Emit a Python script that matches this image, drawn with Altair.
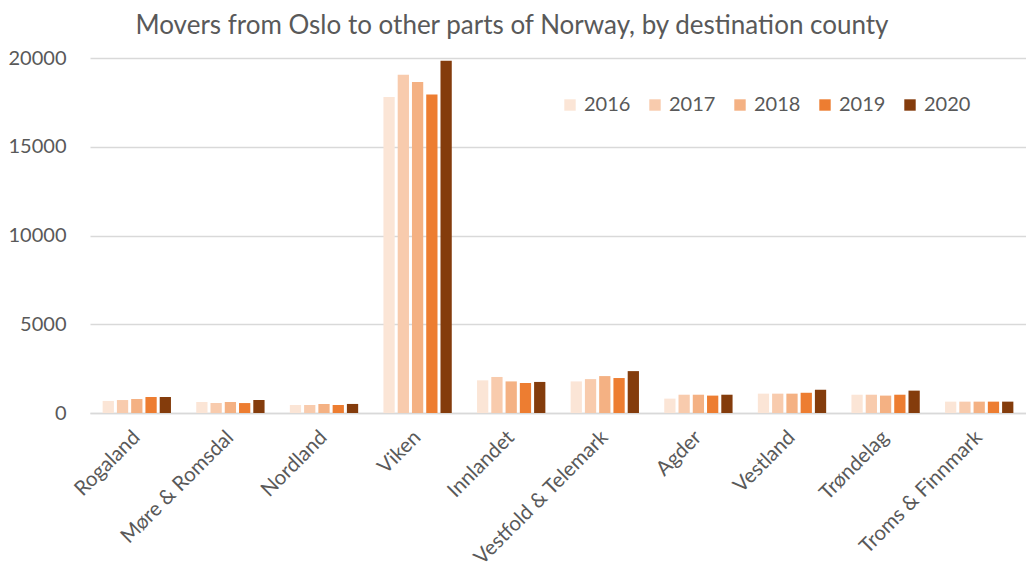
import altair as alt
import pandas as pd

counties = ["Rogaland", "Møre & Romsdal", "Nordland", "Viken", "Innlandet",
            "Vestfold & Telemark", "Agder", "Vestland", "Trøndelag", "Troms & Finnmark"]
years = ["2016", "2017", "2018", "2019", "2020"]
v2016 = [680, 620, 450, 17800, 1840, 1780, 810, 1090, 1030, 640]
v2017 = [730, 560, 450, 19050, 2030, 1910, 1030, 1090, 1030, 640]
v2018 = [790, 620, 510, 18650, 1780, 2080, 1030, 1090, 980, 640]
v2019 = [900, 560, 450, 17950, 1690, 1970, 980, 1140, 1030, 640]
v2020 = [900, 730, 510, 19850, 1750, 2360, 1030, 1310, 1260, 640]
colors = ["#FBE5D6", "#F8CBAD", "#F4B183", "#ED7D31", "#843C0C"]

rows = []
for y, vals in zip(years, [v2016, v2017, v2018, v2019, v2020]):
    for c, v in zip(counties, vals):
        rows.append({"county": c, "year": y, "movers": v})
df = pd.DataFrame(rows)

FONT = "Lato"
GREY = "#595959"

chart = alt.Chart(df).mark_bar().encode(
    x=alt.X("county:N", sort=counties,
            scale=alt.Scale(paddingInner=0.27, paddingOuter=0.135),
            axis=alt.Axis(title=None, labelAngle=-45, labelAlign="right",
                          labelBaseline="middle", labelFontSize=20.5, labelFont=FONT,
                          labelColor=GREY, labelPadding=21, labelLimit=400, ticks=False,
                          domainColor="#D9D9D9", domainWidth=1.5)),
    xOffset=alt.XOffset("year:N", sort=years,
                        scale=alt.Scale(paddingInner=0.21, paddingOuter=0)),
    y=alt.Y("movers:Q", scale=alt.Scale(domain=[0, 20000], nice=False),
            axis=alt.Axis(title=None, values=[0, 5000, 10000, 15000, 20000],
                          format="d", labelFontSize=20, labelFont=FONT,
                          labelColor=GREY, labelPadding=24, ticks=False,
                          domain=False, gridColor="#D9D9D9", gridWidth=1.5)),
    color=alt.Color("year:N", sort=years,
                    scale=alt.Scale(domain=years, range=colors),
                    legend=alt.Legend(title=None, orient="none", direction="horizontal",
                                      legendX=470, legendY=37, symbolType="square",
                                      symbolSize=130, symbolStrokeWidth=0,
                                      labelFontSize=20, labelFont=FONT,
                                      labelColor=GREY, labelOffset=4,
                                      columnPadding=14)),
).properties(
    width=936, height=355,
    title=alt.Title("Movers from Oslo to other parts of Norway, by destination county",
                    fontSize=26, font=FONT, fontWeight="normal", color=GREY,
                    anchor="middle", dx=-46, offset=9),
    autosize=alt.AutoSizeParams(type="none"),
    padding={"left": 82, "top": 50, "right": 0, "bottom": 165},
).configure_view(stroke=None)

chart.save("out.html", embed_options={"renderer": "svg", "actions": False})
